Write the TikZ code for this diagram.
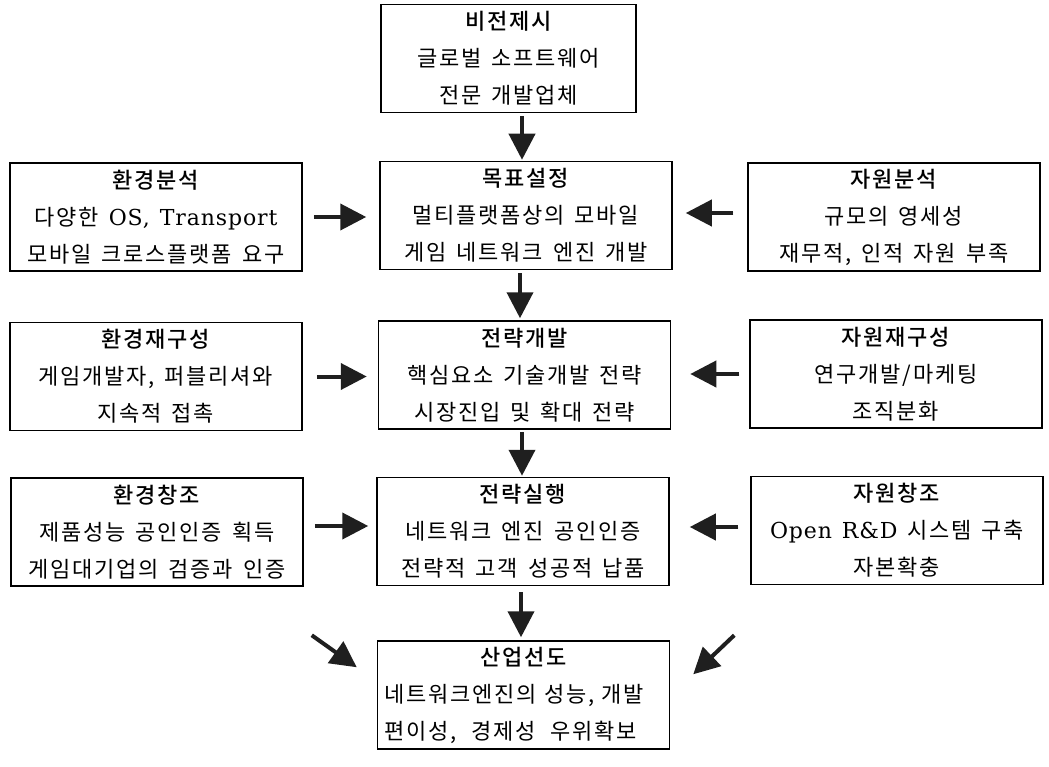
\documentclass[tikz,border=0pt]{standalone}
\usepackage{fontspec}
\setmainfont{Noto Sans CJK KR}[LetterSpace=8]
\newfontfamily\titfont{Noto Sans CJK KR Medium}[LetterSpace=8]
\newfontfamily\latfont{DejaVu Serif}[LetterSpace=4]
\newcommand{\boxfont}{\fontsize{22}{37}\selectfont\spaceskip=10pt plus 4pt minus 1pt\relax}
\usetikzlibrary{arrows.meta,calc}
\begin{document}
\begin{tikzpicture}[x=1pt,y=-1pt,
  box/.style={draw, line width=1.5pt, minimum width=292pt, minimum height=108pt,
    inner sep=0pt, align=center, font=\boxfont},
  flow/.style={-{Triangle[length=26pt,width=26pt]}, line width=4pt, draw=black!88, fill=black!88}]
\useasboundingbox (0,0) rectangle (1049,767);

\node[box, minimum width=255pt] (vis) at (508.5,58.5) {{\titfont 비전제시}\\글로벌 소프트웨어\\전문 개발업체};

\node[box] (envA) at (156,217) {{\titfont 환경분석}\\다양한 {\latfont OS, Transport}\\모바일 크로스플랫폼 요구};
\node[box] (goal) at (526,215.5) {{\titfont 목표설정}\\멀티플랫폼상의 모바일\\게임 네트워크 엔진 개발};
\node[box] (resA) at (894,217) {{\titfont 자원분석}\\규모의 영세성\\재무적, 인적 자원 부족};

\node[box] (envB) at (156,376.5) {{\titfont 환경재구성}\\게임개발자, 퍼블리셔와\\지속적 접촉};
\node[box] (strat) at (524.5,375) {{\titfont 전략개발}\\핵심요소 기술개발 전략\\시장진입 및 확대 전략};
\node[box] (resB) at (896,374) {{\titfont 자원재구성}\\연구개발/마케팅\\조직분화};

\node[box] (envC) at (157,532) {{\titfont 환경창조}\\제품성능 공인인증 획득\\게임대기업의 검증과 인증};
\node[box] (exec) at (523,531.5) {{\titfont 전략실행}\\네트워크 엔진 공인인증\\전략적 고객 성공적 납품};
\node[box] (resC) at (897,530.5) {{\titfont 자원창조}\\{\latfont Open R\&D} 시스템 구축\\자본확충};

\node[box, text width=278pt, align=left] (lead) at (523.5,695) {\makebox[\linewidth]{\titfont 산업선도}\\네트워크엔진의 성능, 개발\\\makebox[252pt][s]{편이성,\hfill\ 경제성\hfill\ 우위확보}};

% vertical arrows
\draw[flow, shorten <=3pt, shorten >=1pt] ([xshift=13.5pt]vis.south) -- ([xshift=-4pt]goal.north);
\draw[flow, shorten <=3pt, shorten >=2pt] ([xshift=-6pt]goal.south) -- ([xshift=-4.5pt]strat.north);
\draw[flow, shorten <=2pt, shorten >=1pt] ([xshift=-2.5pt]strat.south) -- ([xshift=-1pt]exec.north);
\draw[flow, shorten <=6pt, shorten >=3pt] ([xshift=-2pt]exec.south) -- ([xshift=-2.5pt]lead.north);

% horizontal arrows
\draw[flow, shorten <=11pt, shorten >=13pt] (envA.east) -- (goal.west |- envA.east);
\draw[flow, shorten <=14pt, shorten >=13pt] ($(resA.west)+(0,-4)$) -- ($(goal.east |- resA.west)+(0,-4)$);
\draw[flow, shorten <=14pt, shorten >=11pt] (envB.east) -- (strat.west |- envB.east);
\draw[flow, shorten <=10pt, shorten >=19pt] (resB.west) -- (strat.east |- resB.west);
\draw[flow, shorten <=11pt, shorten >=8pt] ($(envC.east)+(0,-6)$) -- ($(exec.west |- envC.east)+(0,-6)$);
\draw[flow, shorten <=12pt, shorten >=20pt] ($(resC.west)+(0,-3.5)$) -- ($(exec.east |- resC.west)+(0,-3.5)$);

% diagonal arrows
\coordinate (dlt) at ($(lead.north west)+(-65,-5)$);
\coordinate (dlh) at ($(lead.north west)+(-20,27)$);
\coordinate (drt) at ($(lead.north east)+(64,-5)$);
\coordinate (drh) at ($(lead.north east)+(23,34)$);
\draw[flow] (dlt) -- (dlh);
\draw[flow] (drt) -- (drh);
\end{tikzpicture}
\end{document}
